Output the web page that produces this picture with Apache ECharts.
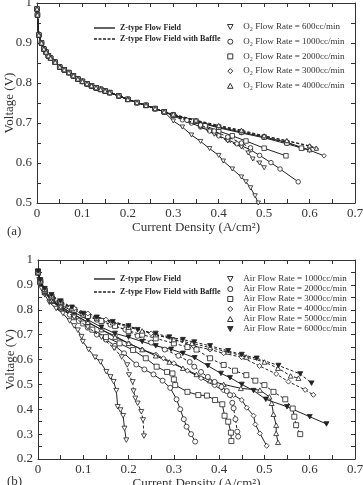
<!DOCTYPE html>
<html>
<head>
<meta charset="utf-8">
<script src="https://cdn.jsdelivr.net/npm/echarts@6/dist/echarts.min.js"></script>
<style>
  html, body { margin: 0; padding: 0; background: #fff; }
  #main { width: 363px; height: 485px; }
</style>
</head>
<body>
<div id="main"></div>
<script>
// ---- (a) O2 flow rates : common low-current part, then the tails ----
var aHead = [[0, 0.985], [0.001, 0.97], [0.004, 0.92], [0.01, 0.9], [0.015, 0.885], [0.02, 0.877],
    [0.025, 0.868], [0.03, 0.862], [0.04, 0.852], [0.05, 0.84], [0.06, 0.833], [0.07, 0.826],
    [0.08, 0.818], [0.09, 0.81], [0.1, 0.804], [0.11, 0.798], [0.12, 0.793], [0.13, 0.788],
    [0.14, 0.784], [0.15, 0.78], [0.16, 0.776], [0.18, 0.768], [0.2, 0.759], [0.22, 0.751],
    [0.24, 0.744], [0.26, 0.736], [0.28, 0.728]];
var a600Z = [[0.3, 0.705], [0.32, 0.69], [0.34, 0.67], [0.36, 0.654], [0.38, 0.636], [0.4, 0.619],
    [0.41, 0.605], [0.43, 0.585], [0.45, 0.565], [0.46, 0.553], [0.47, 0.538], [0.48, 0.518], [0.487, 0.5]];
var a600B = [[0.3, 0.718], [0.33, 0.705], [0.36, 0.69], [0.39, 0.672], [0.42, 0.655], [0.45, 0.64],
    [0.465, 0.625], [0.475, 0.61], [0.49, 0.6], [0.5, 0.588]];
var a1000Z = [[0.3, 0.718], [0.32, 0.708], [0.34, 0.7], [0.36, 0.69], [0.38, 0.68], [0.4, 0.668],
    [0.42, 0.658], [0.44, 0.648], [0.47, 0.633], [0.49, 0.619], [0.515, 0.601], [0.535, 0.585], [0.575, 0.553]];
var a1000B = [[0.3, 0.72], [0.33, 0.707], [0.36, 0.695], [0.39, 0.68], [0.42, 0.665], [0.45, 0.65], [0.47, 0.638]];
var a2000Z = [[0.3, 0.72], [0.34, 0.705], [0.37, 0.693], [0.4, 0.68], [0.43, 0.668], [0.46, 0.655],
    [0.5, 0.637], [0.548, 0.618]];
var a2000B = [[0.3, 0.72], [0.35, 0.705], [0.4, 0.69], [0.45, 0.678], [0.5, 0.665], [0.55, 0.65], [0.582, 0.637]];
var a3000Z = [[0.3, 0.72], [0.35, 0.703], [0.4, 0.688], [0.45, 0.675], [0.5, 0.663], [0.55, 0.648],
    [0.6, 0.632], [0.632, 0.618]];
var a3000B = [[0.3, 0.722], [0.35, 0.706], [0.4, 0.692], [0.45, 0.68], [0.5, 0.667], [0.55, 0.655],
    [0.6, 0.642], [0.614, 0.636]];
var a4000Z = [[0.3, 0.72], [0.35, 0.704], [0.4, 0.69], [0.45, 0.677], [0.5, 0.665], [0.55, 0.652],
    [0.585, 0.638], [0.6, 0.633]];
var a4000B = [[0.3, 0.722], [0.35, 0.707], [0.4, 0.694], [0.45, 0.682], [0.5, 0.668], [0.55, 0.656],
    [0.6, 0.643], [0.615, 0.637]];

// ---- (b) air flow rates ----
var b1000Z = [[0, 0.95], [0.003, 0.92], [0.008, 0.885], [0.015, 0.86], [0.025, 0.83], [0.04, 0.805],
    [0.055, 0.785], [0.07, 0.755], [0.08, 0.735], [0.088, 0.718], [0.096, 0.692], [0.099, 0.672],
    [0.112, 0.64], [0.126, 0.609], [0.138, 0.59], [0.151, 0.551], [0.16, 0.53], [0.167, 0.511],
    [0.173, 0.475], [0.176, 0.41], [0.182, 0.397], [0.188, 0.374], [0.191, 0.323], [0.195, 0.276]];
var b1000B = [[0, 0.95], [0.005, 0.91], [0.015, 0.87], [0.03, 0.84], [0.05, 0.81], [0.08, 0.77],
    [0.11, 0.73], [0.14, 0.69], [0.168, 0.645], [0.185, 0.61], [0.197, 0.578], [0.201, 0.538],
    [0.209, 0.51], [0.211, 0.473], [0.215, 0.444], [0.22, 0.424], [0.228, 0.39], [0.232, 0.357], [0.234, 0.292]];
var b2000Z = [[0, 0.95], [0.005, 0.91], [0.015, 0.87], [0.03, 0.835], [0.05, 0.805], [0.07, 0.78],
    [0.09, 0.755], [0.11, 0.728], [0.13, 0.7], [0.15, 0.68], [0.17, 0.655], [0.19, 0.625],
    [0.217, 0.58], [0.235, 0.56], [0.255, 0.54], [0.275, 0.515], [0.292, 0.486], [0.306, 0.44],
    [0.314, 0.4], [0.322, 0.36], [0.328, 0.33], [0.338, 0.3], [0.347, 0.27]];
var b2000B = [[0, 0.95], [0.005, 0.915], [0.015, 0.875], [0.03, 0.85], [0.05, 0.825], [0.075, 0.8],
    [0.1, 0.78], [0.13, 0.76], [0.16, 0.74], [0.193, 0.72], [0.22, 0.695], [0.25, 0.668], [0.28, 0.64],
    [0.31, 0.615], [0.335, 0.59], [0.345, 0.571], [0.36, 0.55], [0.375, 0.53], [0.39, 0.51],
    [0.405, 0.49], [0.417, 0.473], [0.424, 0.457], [0.429, 0.426], [0.432, 0.404], [0.436, 0.36],
    [0.44, 0.31], [0.442, 0.29]];
var b3000Z = [[0, 0.95], [0.005, 0.91], [0.015, 0.87], [0.03, 0.835], [0.05, 0.81], [0.08, 0.77],
    [0.1, 0.745], [0.12, 0.72], [0.15, 0.69], [0.18, 0.665], [0.21, 0.638], [0.238, 0.605],
    [0.262, 0.571], [0.285, 0.55], [0.297, 0.544], [0.3, 0.52], [0.303, 0.497], [0.33, 0.47],
    [0.354, 0.457], [0.373, 0.455], [0.391, 0.437], [0.407, 0.42], [0.412, 0.374], [0.42, 0.35],
    [0.426, 0.306], [0.427, 0.272]];
var b3000B = [[0, 0.95], [0.005, 0.915], [0.015, 0.878], [0.03, 0.853], [0.05, 0.83], [0.08, 0.8],
    [0.11, 0.775], [0.14, 0.755], [0.17, 0.735], [0.2, 0.715], [0.23, 0.7], [0.26, 0.685], [0.3, 0.665],
    [0.33, 0.65], [0.35, 0.64], [0.38, 0.605], [0.41, 0.578], [0.435, 0.555], [0.46, 0.537],
    [0.48, 0.515], [0.5, 0.497], [0.52, 0.47], [0.546, 0.44], [0.5625, 0.403], [0.566, 0.37],
    [0.57, 0.336], [0.579, 0.3]];
var b4000Z = [[0, 0.95], [0.005, 0.915], [0.015, 0.875], [0.03, 0.84], [0.05, 0.815], [0.08, 0.78],
    [0.11, 0.75], [0.14, 0.72], [0.17, 0.695], [0.2, 0.665], [0.23, 0.64], [0.26, 0.62], [0.277, 0.605],
    [0.3, 0.585], [0.33, 0.555], [0.36, 0.525], [0.39, 0.495], [0.41, 0.475], [0.432, 0.457],
    [0.45, 0.437], [0.461, 0.406], [0.476, 0.374], [0.48, 0.339], [0.49, 0.303], [0.505, 0.253]];
var b4000B = [[0, 0.95], [0.005, 0.92], [0.015, 0.88], [0.03, 0.855], [0.05, 0.83], [0.08, 0.805],
    [0.11, 0.785], [0.15, 0.76], [0.2, 0.735], [0.25, 0.705], [0.3, 0.68], [0.343, 0.655], [0.38, 0.64],
    [0.41, 0.625], [0.45, 0.609], [0.489, 0.574], [0.526, 0.542], [0.553, 0.511], [0.59, 0.478], [0.608, 0.458]];
var b5000Z = [[0, 0.95], [0.005, 0.912], [0.015, 0.872], [0.03, 0.838], [0.05, 0.812], [0.08, 0.78],
    [0.11, 0.75], [0.14, 0.72], [0.17, 0.69], [0.2, 0.665], [0.23, 0.64], [0.26, 0.615], [0.29, 0.59],
    [0.32, 0.565], [0.35, 0.54], [0.38, 0.515], [0.41, 0.5], [0.448, 0.484], [0.49, 0.477], [0.511, 0.45],
    [0.516, 0.424], [0.52, 0.38], [0.526, 0.336], [0.526, 0.303], [0.53, 0.267]];
var b5000B = [[0, 0.95], [0.005, 0.92], [0.015, 0.882], [0.03, 0.857], [0.05, 0.832], [0.075, 0.805],
    [0.1, 0.78], [0.13, 0.765], [0.165, 0.748], [0.2, 0.73], [0.23, 0.715], [0.26, 0.7], [0.3, 0.68],
    [0.34, 0.665], [0.38, 0.648], [0.42, 0.63], [0.46, 0.61], [0.5, 0.59], [0.53, 0.565], [0.558, 0.534], [0.575, 0.525]];
var b6000Z = [[0, 0.955], [0.005, 0.915], [0.015, 0.875], [0.03, 0.845], [0.05, 0.82], [0.08, 0.79],
    [0.11, 0.76], [0.14, 0.73], [0.17, 0.705], [0.2, 0.69], [0.23, 0.672], [0.26, 0.655], [0.294, 0.641],
    [0.32, 0.625], [0.346, 0.607], [0.375, 0.575], [0.404, 0.544], [0.424, 0.527], [0.45, 0.5],
    [0.476, 0.475], [0.503, 0.44], [0.55, 0.41], [0.6, 0.37], [0.637, 0.341]];
var b6000B = [[0, 0.955], [0.005, 0.92], [0.015, 0.885], [0.03, 0.86], [0.05, 0.835], [0.075, 0.81],
    [0.1, 0.785], [0.13, 0.77], [0.165, 0.752], [0.2, 0.735], [0.22, 0.72], [0.26, 0.705], [0.29, 0.69],
    [0.32, 0.68], [0.345, 0.67], [0.38, 0.655], [0.42, 0.635], [0.45, 0.62], [0.483, 0.605],
    [0.531, 0.576], [0.579, 0.542], [0.604, 0.505]];

var namesA = ['O₂ Flow Rate = 600cc/min', 'O₂ Flow Rate = 1000cc/min', 'O₂ Flow Rate = 2000cc/min',
    'O₂ Flow Rate = 3000cc/min', 'O₂ Flow Rate = 4000cc/min'];
var namesB = ['Air Flow Rate = 1000cc/min', 'Air Flow Rate = 2000cc/min', 'Air Flow Rate = 3000cc/min',
    'Air Flow Rate = 4000cc/min', 'Air Flow Rate = 5000cc/min', 'Air Flow Rate = 6000cc/min'];
var lineNames = ['Z-type Flow Field', 'Z-type Flow Field with Baffle'];
var xTicks = [0, 0.7, 0.1];

var FONT = '"Liberation Serif", "Times New Roman", serif';
var INK = '#222';
var DOWN = 'path://M0,0L10,0L5,9Z';
var UP = 'path://M5,0L10,9L0,9Z';
var CIRC = 'path://M5,0A5,5,0,1,1,5,10A5,5,0,1,1,5,0Z';
var SQR = 'path://M0,0L10,0L10,10L0,10Z';
var DIAM = 'path://M5,0L10,5L5,10L0,5Z';
var symA = [DOWN, CIRC, SQR, DIAM, UP];
var symB = [DOWN, CIRC, SQR, DIAM, UP, DOWN];

function mk(name, data, dashed, sym, grid, filled) {
    return {
        name: name,
        type: 'line',
        xAxisIndex: grid * 2,
        yAxisIndex: grid * 2,
        data: data,
        symbol: sym,
        symbolSize: grid === 0 ? 4.5 : 5,
        symbolKeepAspect: true,
        lineStyle: { color: INK, width: 1, type: dashed ? [3, 2] : 'solid' },
        itemStyle: { color: filled ? INK : '#fff', borderColor: INK, borderWidth: 0.8 },
        z: dashed ? 3 : 2,
        animation: false
    };
}

var series = [
    mk(namesA[0], aHead.concat(a600Z), false, symA[0], 0),
    mk(namesA[0], aHead.concat(a600B), true, symA[0], 0),
    mk(namesA[1], aHead.concat(a1000Z), false, symA[1], 0),
    mk(namesA[1], aHead.concat(a1000B), true, symA[1], 0),
    mk(namesA[2], aHead.concat(a2000Z), false, symA[2], 0),
    mk(namesA[2], aHead.concat(a2000B), true, symA[2], 0),
    mk(namesA[3], aHead.concat(a3000Z), false, symA[3], 0),
    mk(namesA[3], aHead.concat(a3000B), true, symA[3], 0),
    mk(namesA[4], aHead.concat(a4000Z), false, symA[4], 0),
    mk(namesA[4], aHead.concat(a4000B), true, symA[4], 0),
    mk(namesB[0], b1000Z, false, symB[0], 1),
    mk(namesB[0], b1000B, true, symB[0], 1),
    mk(namesB[1], b2000Z, false, symB[1], 1),
    mk(namesB[1], b2000B, true, symB[1], 1),
    mk(namesB[2], b3000Z, false, symB[2], 1),
    mk(namesB[2], b3000B, true, symB[2], 1),
    mk(namesB[3], b4000Z, false, symB[3], 1),
    mk(namesB[3], b4000B, true, symB[3], 1),
    mk(namesB[4], b5000Z, false, symB[4], 1),
    mk(namesB[4], b5000B, true, symB[4], 1),
    mk(namesB[5], b6000Z, false, symB[5], 1, true),
    mk(namesB[5], b6000B, true, symB[5], 1, true),
    // legend-only entries for the two line styles
    { name: lineNames[0], type: 'line', data: [], xAxisIndex: 0, yAxisIndex: 0, symbol: 'none', lineStyle: { color: INK } },
    { name: lineNames[1], type: 'line', data: [], xAxisIndex: 0, yAxisIndex: 0, symbol: 'none', lineStyle: { color: INK, type: 'dashed' } }
];

function xAx(grid, pos) {
    return {
        type: 'value', gridIndex: grid, position: pos,
        min: xTicks[0], max: xTicks[1], interval: xTicks[2],
        axisLine: { show: true, onZero: false, lineStyle: { color: '#333', width: 1 } },
        axisTick: { show: true, inside: true, length: 4, lineStyle: { color: '#333' } },
        minorTick: { show: true, splitNumber: 2, length: 4, lineStyle: { color: '#333' } },
        splitLine: { show: false },
        axisLabel: { show: pos === 'bottom', margin: 4, color: '#333', fontFamily: FONT, fontSize: 13 },
        name: pos === 'bottom' ? 'Current Density (A/cm²)' : '',
        nameLocation: 'middle', nameGap: 18, nameMoveOverlap: false,
        nameTextStyle: { color: '#333', fontFamily: FONT, fontSize: 13 }
    };
}
function yAx(grid, pos, min) {
    return {
        type: 'value', gridIndex: grid, position: pos,
        min: min, max: 1, interval: 0.1,
        axisLine: { show: true, onZero: false, lineStyle: { color: '#333', width: 1 } },
        axisTick: { show: true, inside: true, length: 4, lineStyle: { color: '#333' } },
        minorTick: { show: true, splitNumber: 2, length: 4, lineStyle: { color: '#333' } },
        splitLine: { show: false },
        axisLabel: { show: pos === 'left', margin: 5, color: '#333', fontFamily: FONT, fontSize: 13 },
        name: pos === 'left' ? 'Voltage (V)' : '',
        nameLocation: 'middle', nameGap: 21, nameRotate: 90, nameMoveOverlap: false,
        nameTextStyle: { color: '#333', fontFamily: FONT, fontSize: 13 }
    };
}

function markerLegend(names, syms, top, gap, filledLast) {
    return {
        orient: 'vertical', left: 222, top: top, itemGap: gap,
        itemWidth: 16, itemHeight: 5, selectedMode: false,
        itemStyle: { color: '#fff', borderColor: '#333', borderWidth: 1 },
        textStyle: { fontFamily: FONT, fontSize: 9, color: '#333', lineHeight: 10 },
        data: names.map(function (n, i) {
            var d = { name: n, icon: syms[i] };
            if (filledLast && i === names.length - 1) d.itemStyle = { color: '#333', borderColor: '#333' };
            return d;
        })
    };
}
function lineLegend(top, gap) {
    return {
        orient: 'vertical', left: 89, top: top, itemGap: gap,
        itemWidth: 21, itemHeight: 8, selectedMode: false,
        itemStyle: { color: INK, borderWidth: 0 },
        textStyle: { fontFamily: FONT, fontSize: 8, fontWeight: 'bold', color: '#222', lineHeight: 9 },
        data: [
            { name: lineNames[0], icon: 'path://M0,0h21v1.4h-21z' },
            { name: lineNames[1], icon: 'path://M0,0h3v1.4h-3zM4.5,0h3v1.4h-3zM9,0h3v1.4h-3zM13.5,0h3v1.4h-3zM18,0h3v1.4h-3z' }
        ]
    };
}

var chart = echarts.init(document.getElementById('main'));
chart.setOption({
    backgroundColor: '#fff',
    animation: false,
    title: [
        { text: '(a)', left: 2, top: 220, textStyle: { fontFamily: FONT, fontSize: 13, fontWeight: 'normal', color: '#333' } },
        { text: '(b)', left: 2, top: 470, textStyle: { fontFamily: FONT, fontSize: 13, fontWeight: 'normal', color: '#333' } }
    ],
    grid: [
        { left: 37, top: 3, width: 318, height: 200, outerBoundsMode: 'none' },
        { left: 38, top: 260, width: 317, height: 199, outerBoundsMode: 'none' }
    ],
    xAxis: [xAx(0, 'bottom'), xAx(0, 'top'), xAx(1, 'bottom'), xAx(1, 'top')],
    yAxis: [yAx(0, 'left', 0.5), yAx(0, 'right', 0.5), yAx(1, 'left', 0.2), yAx(1, 'right', 0.2)],
    legend: [
        lineLegend(18.5, 2),
        markerLegend(namesA, symA, 17, 4.7, false),
        lineLegend(269.5, 4),
        markerLegend(namesB, symB, 269, 0, true)
    ],
    series: series
});
</script>
</body>
</html>
